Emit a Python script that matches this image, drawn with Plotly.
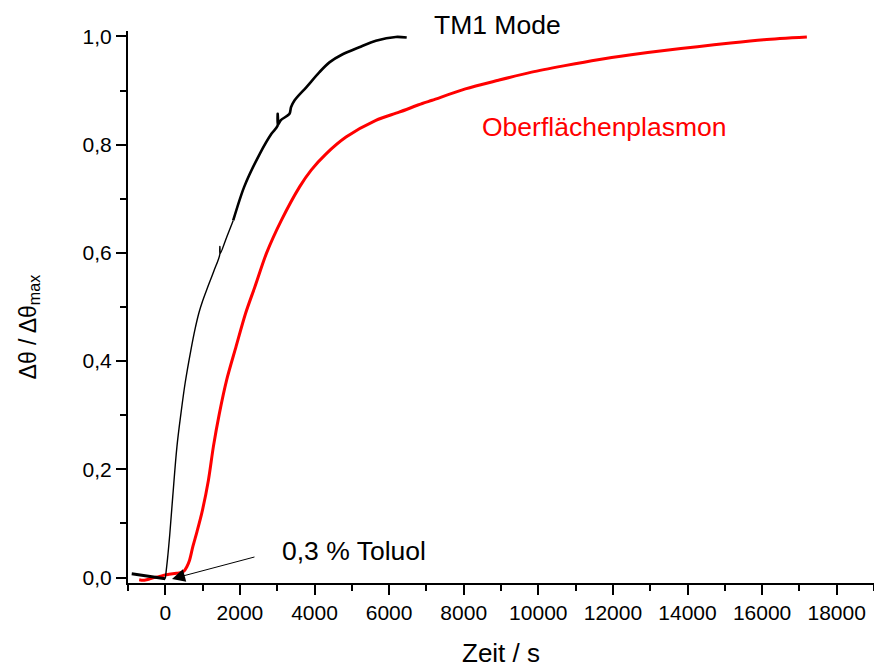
import plotly.graph_objects as go

# ---- data ----
tm1_time = [-900, -800, -700, -600, -500, -400, -300, -200, -100, 0,
            60, 120, 200, 312, 419, 533, 685, 800, 900, 1000,
            1128, 1300, 1460, 1463, 1466, 1650, 1821, 2115, 2533, 2845,
            3010, 3013, 3016, 3093, 3330, 3370, 3467, 3779, 4133, 4400,
            4755, 5200, 5645, 6179, 6472]
tm1_val = [0.007, 0.006, 0.005, 0.004, 0.003, 0.002, 0.001, 0.000, -0.001, -0.002,
           0.035, 0.080, 0.150, 0.242, 0.303, 0.360, 0.420, 0.460, 0.489, 0.511,
           0.535, 0.566, 0.597, 0.612, 0.598, 0.630, 0.660, 0.722, 0.783, 0.820,
           0.835, 0.857, 0.836, 0.845, 0.857, 0.869, 0.882, 0.906, 0.934, 0.952,
           0.967, 0.980, 0.992, 0.999, 0.998]

sp_time = [-700, -600, -500, -400, -300, -200, -100, 0, 100, 200,
           300, 400, 500, 578, 650, 738, 850, 978, 1156, 1289,
           1449, 1644, 1893, 2151, 2400, 2711, 3111, 3600, 3911, 4311,
           4845, 5645, 6267, 6889, 7155, 8045, 8933, 9822, 10711, 11600,
           12489, 13378, 14267, 15155, 16044, 17200]
sp_val = [-0.004, -0.005, -0.004, -0.002, 0.000, 0.001, 0.003, 0.005, 0.006, 0.007,
          0.008, 0.009, 0.012, 0.020, 0.032, 0.057, 0.085, 0.119, 0.180, 0.242,
          0.303, 0.365, 0.426, 0.488, 0.537, 0.599, 0.660, 0.722, 0.753, 0.783,
          0.814, 0.845, 0.860, 0.876, 0.882, 0.903, 0.919, 0.934, 0.946, 0.957,
          0.966, 0.974, 0.981, 0.988, 0.994, 0.999]

x_title = "Zeit / s"
y_title = "Δθ / Δθ<sub>max</sub>"
label_tm1 = "TM1 Mode"
label_sp = "Oberflächenplasmon"
label_arrow = "0,3 % Toluol"

FONT = "Arial, Liberation Sans, sans-serif"

# split the black trace into segments of different visual thickness
i0 = tm1_time.index(0)
i1 = tm1_time.index(1821)

fig = go.Figure()
fig.add_trace(go.Scatter(x=sp_time, y=sp_val, mode="lines",
                         line=dict(color="#ff0000", width=3, shape="spline", smoothing=0.8),
                         showlegend=False))
fig.add_trace(go.Scatter(x=tm1_time[:i0 + 1], y=tm1_val[:i0 + 1], mode="lines",
                         line=dict(color="black", width=3), showlegend=False))
fig.add_trace(go.Scatter(x=tm1_time[i0:i1 + 1], y=tm1_val[i0:i1 + 1], mode="lines",
                         line=dict(color="black", width=1.4, shape="spline", smoothing=1),
                         showlegend=False))
fig.add_trace(go.Scatter(x=tm1_time[i1:], y=tm1_val[i1:], mode="lines",
                         line=dict(color="black", width=2.6, shape="spline", smoothing=0.8),
                         showlegend=False))

fig.update_layout(
    width=874, height=671,
    margin=dict(l=128, r=0, t=31, b=88),
    paper_bgcolor="white", plot_bgcolor="white",
    separators=",.",
    font=dict(family=FONT, color="black"),
    xaxis=dict(range=[-1000, 19000], tickmode="linear", tick0=0, dtick=2000,
               tickformat="d", showline=True, linecolor="black", linewidth=2,
               ticks="outside", ticklen=10, tickwidth=2, tickcolor="black",
               showgrid=False, zeroline=False,
               tickfont=dict(size=21, family=FONT, color="black"),
               minor=dict(dtick=1000, tick0=0, ticks="outside", ticklen=6,
                          tickwidth=2, tickcolor="black", showgrid=False)),
    yaxis=dict(range=[-0.01, 1.01], tickmode="linear", tick0=0, dtick=0.2,
               tickformat=".1f", showline=True, linecolor="black", linewidth=2,
               ticks="outside", ticklen=10, tickwidth=2, tickcolor="black",
               showgrid=False, zeroline=False,
               tickfont=dict(size=21, family=FONT, color="black"),
               minor=dict(dtick=0.1, tick0=0, ticks="outside", ticklen=6,
                          tickwidth=2, tickcolor="black", showgrid=False)),
)

fig.add_annotation(text=x_title, xref="paper", yref="paper", x=0.5, y=-0.127,
                   xanchor="center", yanchor="middle", showarrow=False,
                   font=dict(size=26, family=FONT, color="black"))
fig.add_annotation(text=y_title, xref="paper", yref="paper", x=-0.1327, y=0.463,
                   xanchor="center", yanchor="middle", showarrow=False, textangle=-90,
                   font=dict(size=23, family=FONT, color="black"))
fig.add_annotation(text=label_tm1, xref="x", yref="paper", x=7158, y=1.0109,
                   xanchor="left", yanchor="middle", showarrow=False,
                   font=dict(size=26.5, family=FONT, color="black"))
fig.add_annotation(text=label_sp, xref="x", yref="y", x=8445, y=0.833,
                   xanchor="left", yanchor="middle", showarrow=False,
                   font=dict(size=26.5, family=FONT, color="#ff0000"))
fig.add_annotation(text=label_arrow, xref="x", yref="y", x=3083, y=0.049,
                   xanchor="left", yanchor="middle", showarrow=False,
                   font=dict(size=26.5, family=FONT, color="black"))
fig.add_annotation(text="", xref="x", yref="y", x=180, y=-0.0024,
                   axref="x", ayref="y", ax=2431, ay=0.0388,
                   showarrow=True, arrowhead=2, arrowsize=2.6, arrowwidth=1,
                   arrowcolor="black", standoff=0)

fig.write_html("out.html")
